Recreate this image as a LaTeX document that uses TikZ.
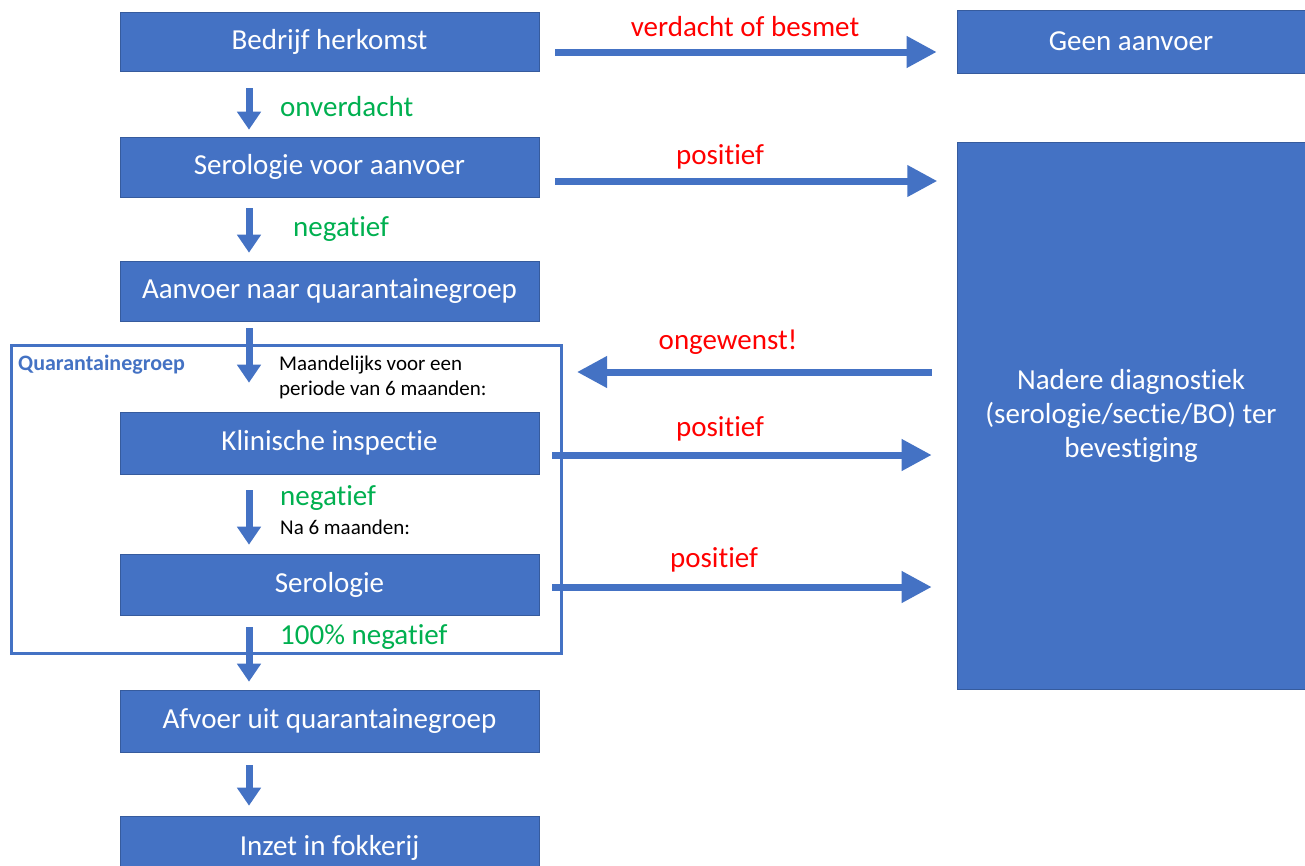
\documentclass[tikz,border=0pt]{standalone}
\usepackage{fontspec}
\setmainfont{Carlito}[Ligatures=NoCommon]
\usetikzlibrary{arrows.meta,calc}
\definecolor{pblue}{HTML}{4472C4}
\definecolor{pgreen}{HTML}{00B050}
\definecolor{pred}{HTML}{FF0000}
\tikzset{
  box/.style={fill=pblue, draw=pblue!80!black, line width=0.6pt, text=white, minimum width=419pt, font=\fontsize{29}{34}\selectfont, inner sep=0pt, align=center},
  dn/.style={pblue, line width=7pt, -{Triangle[length=18pt,width=23pt]}},
  hr/.style={pblue, line width=7pt, -{Triangle[length=30pt,width=30pt]}},
  redlab/.style={text=pred, font=\fontsize{29}{34}\selectfont, inner sep=0pt},
  grnlab/.style={text=pgreen, font=\fontsize{29}{34}\selectfont, inner sep=0pt, anchor=west},
  smalllab/.style={text=black, font=\fontsize{21}{25}\selectfont, inner sep=0pt, anchor=west, align=left},
}
\begin{document}
\begin{tikzpicture}[x=1pt,y=-1pt]
\useasboundingbox (0,0) rectangle (1305,865);
\fill[white] (0,0) rectangle (1305,865);
% frame
\node[draw=pblue, line width=3pt, minimum width=550pt, minimum height=308pt, inner sep=0pt] (frame) at (286.5,499.5) {};
\node[text=pblue, font=\bfseries\fontsize{22}{26}\selectfont, inner sep=0pt, anchor=west] (qlab) at (18,365) {Quarantainegroep};
% left boxes
\node[box, minimum height=59pt] (b1) at (329.5,41.5) {Bedrijf herkomst};
\node[box, minimum height=60pt] (b2) at (329.5,167) {Serologie voor aanvoer};
\node[box, minimum height=60pt] (b3) at (329.5,291) {Aanvoer naar quarantainegroep};
\node[box, minimum height=62pt] (b4) at (329.5,443) {Klinische inspectie};
\node[box, minimum height=61pt] (b5) at (329.5,584.5) {Serologie};
\node[box, minimum height=62pt, text depth=0pt] (b7) at (329.5,847) {\raisebox{4pt}{Inzet in fokkerij}};
\node[box, minimum height=62pt] (b6) at (329.5,721) {Afvoer uit quarantainegroep};
% right boxes
\node[box, minimum width=348pt, minimum height=63pt] (geen) at (1131,41.5) {Geen aanvoer};
\node[box, minimum width=348pt, minimum height=547pt] (nad) at (1131,415.5) {Nadere diagnostiek\\(serologie/sectie/BO) ter\\bevestiging};
% down arrows
\coordinate (ax) at (249,0);
\draw[dn, shorten <=17pt, shorten >=7pt] (b1.south -| ax) -- (b2.north -| ax);
\draw[dn, shorten <=11pt, shorten >=8pt] (b2.south -| ax) -- (b3.north -| ax);
\draw[dn, shorten <=7pt, shorten >=29pt] (b3.south -| ax) -- (b4.north -| ax);
\draw[dn, shorten <=16pt, shorten >=9pt] (b4.south -| ax) -- (b5.north -| ax);
\draw[dn, shorten <=12pt, shorten >=8pt] (b5.south -| ax) -- (b6.north -| ax);
\draw[dn, shorten <=13pt, shorten >=10pt] (b6.south -| ax) -- (b7.north -| ax);
% horizontal arrows
\draw[hr] ($(b1.east)+(16,10.5)$) -- ($(geen.west)+(-20,10.5)$);
\draw[hr] ($(b2.east)+(16,14)$) -- ($(b2.east)+(398,14)$);
\draw[hr] ($(nad.west)+(-25,-43.5)$) -- ($(frame.east)+(14,-127.5)$);
\draw[hr] ($(b4.east)+(13,12)$) -- ($(nad.west)+(-25,39.5)$);
\draw[hr] ($(b5.east)+(13,2.5)$) -- ($(nad.west)+(-25,171.5)$);
% labels
\node[grnlab] (l1) at (280,107) {onverdacht};
\node[grnlab] (l2) at (293,229) {negatief};
\node[smalllab] (l3) at (279,377.5) {Maandelijks voor een\\periode van 6 maanden:};
\node[grnlab] (l4) at (280,498) {negatief};
\node[smalllab] (l5) at (280,527) {Na 6 maanden:};
\node[grnlab] (l6) at (280,637) {100\% negatief};
\node[redlab] (r1) at (745,27) {verdacht of besmet};
\node[redlab] (r2) at (720,157) {positief};
\node[redlab] (r3) at (728,342) {ongewenst!};
\node[redlab] (r4) at (720,429) {positief};
\node[redlab] (r5) at (714,560) {positief};
\end{tikzpicture}
\end{document}
